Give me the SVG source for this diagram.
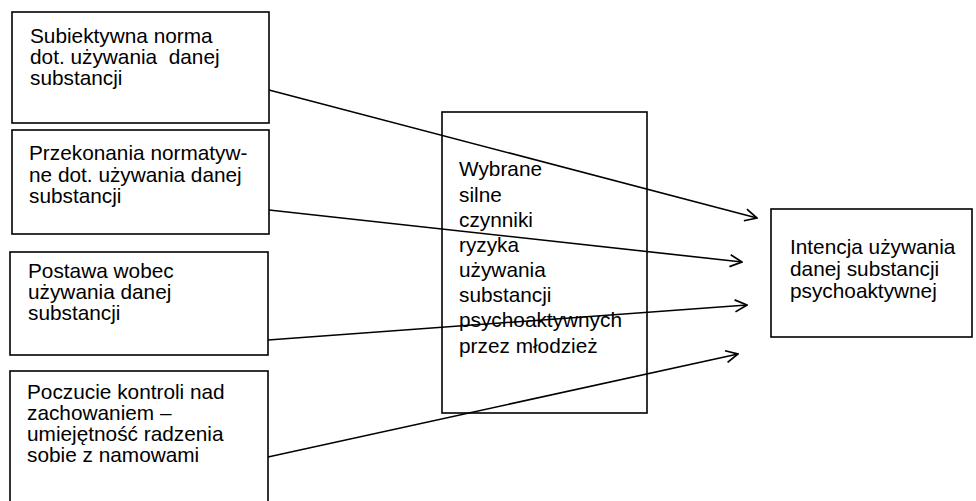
<svg xmlns="http://www.w3.org/2000/svg" width="976" height="501" viewBox="0 0 976 501">
<defs>
<style>
.box{fill:#fff;stroke:#000;stroke-width:1.6}
.t{font-family:"Liberation Sans",Arial,sans-serif;font-size:20.8px;fill:#000;white-space:pre}
.c{fill:none;stroke:#000;stroke-width:1.6}
</style>
<marker id="arr" viewBox="0 0 14 14" refX="13" refY="7" markerWidth="14" markerHeight="14" markerUnits="userSpaceOnUse" orient="auto">
<path d="M1,1 L13,7 L1,13" fill="none" stroke="#000" stroke-width="1.7"/>
</marker>
</defs>
<rect width="976" height="501" fill="#fff"/>
<g id="n1">
<rect class="box" x="12" y="12" width="257" height="111"/>
<text class="t" x="30" y="43">Subiektywna norma</text>
<text class="t" x="30" y="64" xml:space="preserve">dot. używania  danej</text>
<text class="t" x="30" y="85">substancji</text>
</g>
<g id="n2">
<rect class="box" x="12" y="130" width="257" height="104"/>
<text class="t" x="29" y="160">Przekonania normatyw-</text>
<text class="t" x="29" y="182">ne dot. używania danej</text>
<text class="t" x="29" y="203">substancji</text>
</g>
<g id="n3">
<rect class="box" x="10" y="252" width="258" height="103"/>
<text class="t" x="28" y="278">Postawa wobec</text>
<text class="t" x="28" y="299">używania danej</text>
<text class="t" x="28" y="320">substancji</text>
</g>
<g id="n4">
<rect class="box" x="10" y="371" width="258" height="140"/>
<text class="t" x="27" y="399">Poczucie kontroli nad</text>
<text class="t" x="27" y="420">zachowaniem –</text>
<text class="t" x="27" y="441">umiejętność radzenia</text>
<text class="t" x="27" y="462">sobie z namowami</text>
</g>
<g id="n5">
<rect class="box" x="442" y="112" width="205" height="301"/>
<text class="t" x="459" y="176">Wybrane</text>
<text class="t" x="459" y="202">silne</text>
<text class="t" x="459" y="227">czynniki</text>
<text class="t" x="459" y="252">ryzyka</text>
<text class="t" x="459" y="277">używania</text>
<text class="t" x="459" y="302">substancji</text>
<text class="t" x="459" y="327">psychoaktywnych</text>
<text class="t" x="459" y="353">przez młodzież</text>
</g>
<g id="n6">
<rect class="box" x="771" y="209" width="201" height="128"/>
<text class="t" x="790" y="254">Intencja używania</text>
<text class="t" x="790" y="276">danej substancji</text>
<text class="t" x="790" y="298">psychoaktywnej</text>
</g>
<g id="connectors">
<line class="c" x1="269" y1="90" x2="757" y2="218" marker-end="url(#arr)"/>
<line class="c" x1="269" y1="210" x2="742" y2="262" marker-end="url(#arr)"/>
<line class="c" x1="268" y1="340" x2="747" y2="305" marker-end="url(#arr)"/>
<line class="c" x1="268" y1="457" x2="738" y2="354" marker-end="url(#arr)"/>
</g>
</svg>
